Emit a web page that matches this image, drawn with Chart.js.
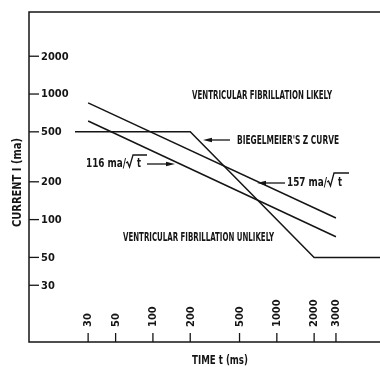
<!DOCTYPE html>
<html>
<head>
<meta charset="utf-8">
<script src="https://cdn.jsdelivr.net/npm/chart.js@4.4.1/dist/chart.umd.min.js"></script>
<style>
html, body { margin: 0; padding: 0; background: #fff; }
#wrap { width: 380px; height: 367px; }
</style>
</head>
<body>
<div id="wrap"><canvas id="myChart" width="380" height="367"></canvas></div>
<script>
// tick labels
var timeTicks = [30, 50, 100, 200, 500, 1000, 2000, 3000];
var currentTicks = [30, 50, 100, 200, 500, 1000, 2000];
// 157 ma / sqrt(t)
var t157 = [30, 3000];
var i157 = [850, 103];
// 116 ma / sqrt(t)
var t116 = [30, 3000];
var i116 = [610, 73];
// Biegelmeier's Z curve
var tZ = [23.5, 200, 2000, 6800];
var iZ = [500, 500, 50, 50];
// axis ranges
var tMin = 10, tMax = 6800;
var iMin = 10.6, iMax = 4500;

var INK = '#151515';
var FONT = "'Liberation Sans Narrow', 'DejaVu Sans Condensed', 'Liberation Sans', sans-serif";

function pts(xs, ys) {
    var out = [];
    for (let i = 0; i < xs.length; i++) out.push({ x: xs[i], y: ys[i] });
    return out;
}

function fitText(ctx, text, x, y, w, size, weight) {
    ctx.save();
    ctx.font = (weight || 'bold') + ' ' + size + 'px ' + FONT;
    ctx.textAlign = 'left';
    ctx.textBaseline = 'alphabetic';
    var m = ctx.measureText(text).width;
    ctx.translate(x, y);
    ctx.scale(w / m, 1);
    ctx.fillText(text, 0, 0);
    ctx.restore();
}

function arrow(ctx, x1, y, x2) {
    var dir = x2 > x1 ? 1 : -1;
    ctx.beginPath();
    ctx.moveTo(x1, y);
    ctx.lineTo(x2 - dir * 6, y);
    ctx.stroke();
    ctx.beginPath();
    ctx.moveTo(x2, y);
    ctx.lineTo(x2 - dir * 9, y - 2.2);
    ctx.lineTo(x2 - dir * 9, y + 2.2);
    ctx.closePath();
    ctx.fill();
}

function radical(ctx, x, base, h, w) {
    ctx.beginPath();
    ctx.moveTo(x, base - 4);
    ctx.lineTo(x + 1.5, base - 5);
    ctx.lineTo(x + 3.5, base);
    ctx.lineTo(x + 7, base - h);
    ctx.lineTo(x + 7 + w, base - h);
    ctx.stroke();
}

var decor = {
    id: 'decor',
    afterDatasetsDraw(chart) {
        var ctx = chart.ctx;
        var a = chart.chartArea;
        var xs = chart.scales.x, ys = chart.scales.y;
        ctx.save();
        ctx.strokeStyle = INK;
        ctx.fillStyle = INK;
        ctx.lineWidth = 1.5;
        // frame: top, left, bottom
        ctx.beginPath();
        ctx.moveTo(a.right, a.top);
        ctx.lineTo(a.left, a.top);
        ctx.lineTo(a.left, a.bottom);
        ctx.lineTo(a.right, a.bottom);
        ctx.stroke();

        // current ticks, inside the axis
        ctx.textBaseline = 'middle';
        ctx.textAlign = 'left';
        ctx.lineWidth = 1.3;
        for (let i = 0; i < currentTicks.length; i++) {
            var py = ys.getPixelForValue(currentTicks[i]);
            ctx.beginPath();
            ctx.moveTo(a.left, py);
            ctx.lineTo(a.left + 10, py);
            ctx.stroke();
            ctx.font = 'bold 11px ' + FONT;
            ctx.fillText(String(currentTicks[i]), a.left + 12, py + 0.5);
        }
        // time ticks, upward from bottom, rotated labels
        for (let i = 0; i < timeTicks.length; i++) {
            var px = xs.getPixelForValue(timeTicks[i]);
            ctx.beginPath();
            ctx.moveTo(px, a.bottom);
            ctx.lineTo(px, a.bottom - 9);
            ctx.stroke();
            ctx.save();
            ctx.translate(px + 0.5, a.bottom - 15);
            ctx.rotate(-Math.PI / 2);
            ctx.font = 'bold 11px ' + FONT;
            ctx.textAlign = 'left';
            ctx.textBaseline = 'middle';
            ctx.fillText(String(timeTicks[i]), 0, 0);
            ctx.restore();
        }

        // axis titles
        ctx.save();
        ctx.translate(21, 183);
        ctx.rotate(-Math.PI / 2);
        fitText(ctx, 'CURRENT I (ma)', -44, 0, 89, 11.5);
        ctx.restore();
        fitText(ctx, 'TIME t (ms)', 192, 364, 56, 12.5);

        // region labels
        fitText(ctx, 'VENTRICULAR FIBRILLATION LIKELY', 192, 99, 140, 12.5);
        fitText(ctx, 'VENTRICULAR FIBRILLATION UNLIKELY', 123, 241, 151, 12.5);
        fitText(ctx, "BIEGELMEIER'S Z CURVE", 237, 144, 102, 12.5);

        // curve labels with arrows
        ctx.lineWidth = 1.3;
        arrow(ctx, 230, 140, 203);
        fitText(ctx, '157 ma/', 287, 186, 40, 12.5);
        radical(ctx, 327, 186, 13, 15);
        fitText(ctx, 't', 338, 186, 4, 12.5);
        arrow(ctx, 285, 183, 257);
        fitText(ctx, '116 ma/', 86, 167, 40, 12.5);
        radical(ctx, 126, 167, 12, 14);
        fitText(ctx, 't', 137, 167, 4, 12.5);
        arrow(ctx, 147, 164, 175);
        ctx.restore();
    }
};

var ctx = document.getElementById('myChart');
var lineStyle = { borderColor: INK, borderWidth: 1.5, pointRadius: 0, fill: false, tension: 0 };
var chart = new Chart(ctx, {
    type: 'line',
    data: {
        datasets: [
            Object.assign({ label: '157 ma/sqrt(t)', data: pts(t157, i157) }, lineStyle),
            Object.assign({ label: '116 ma/sqrt(t)', data: pts(t116, i116) }, lineStyle),
            Object.assign({ label: "Biegelmeier's Z curve", data: pts(tZ, iZ) }, lineStyle)
        ]
    },
    options: {
        responsive: false,
        animation: false,
        devicePixelRatio: 1,
        layout: { padding: { left: 29, top: 12, right: 0, bottom: 25 } },
        scales: {
            x: { type: 'logarithmic', min: tMin, max: tMax, display: false },
            y: { type: 'logarithmic', min: iMin, max: iMax, display: false }
        },
        plugins: {
            legend: { display: false },
            tooltip: { enabled: false }
        }
    },
    plugins: [decor]
});
</script>
</body>
</html>
